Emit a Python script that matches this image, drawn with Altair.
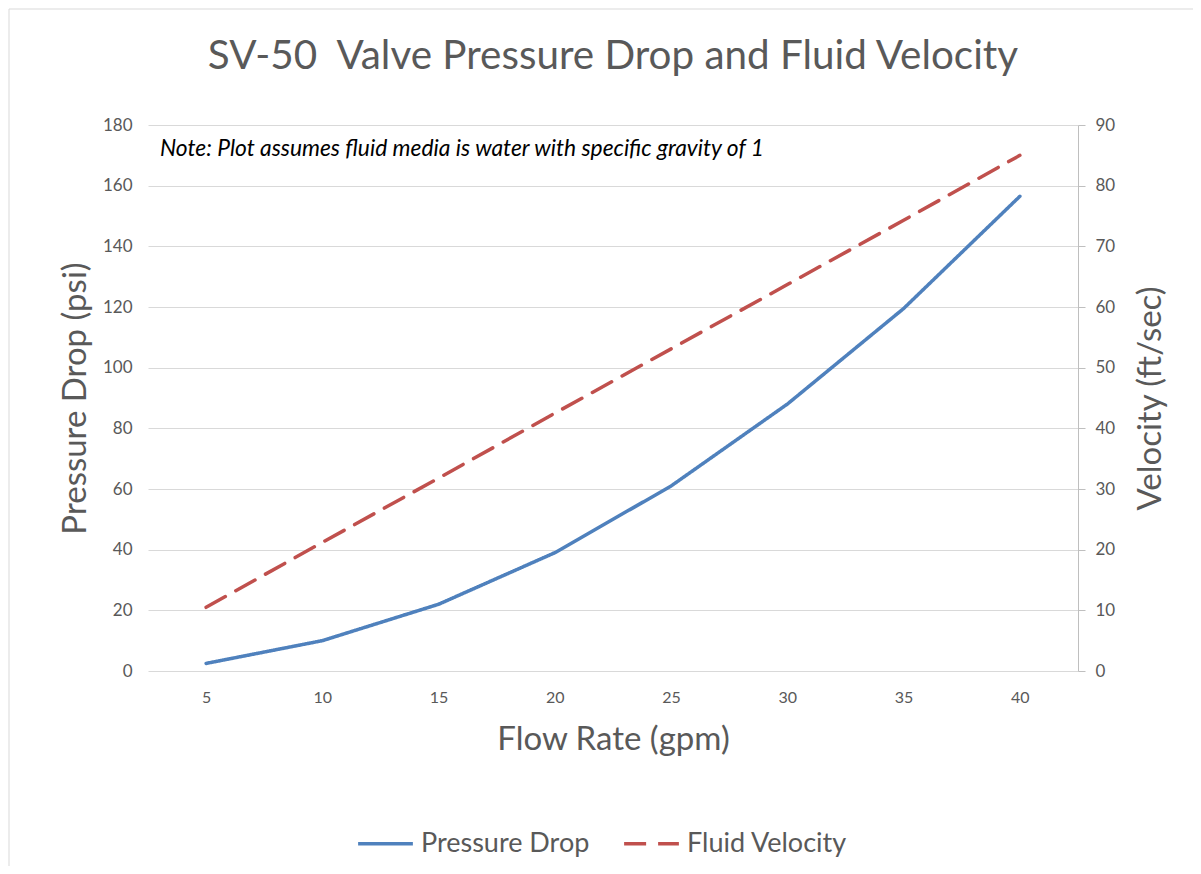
import altair as alt
import pandas as pd

flow = [5, 10, 15, 20, 25, 30, 35, 40]
pressure_drop = [2.5, 10, 22, 39, 61, 88, 119.5, 156.5]
velocity = [10.5, 21.2, 31.8, 42.5, 53.1, 63.7, 74.3, 85.0]
series_names = ["Pressure Drop", "Fluid Velocity"]
series_colors = ["#4F81BD", "#C0504D"]
series_dash = [[1, 0], [22, 12]]
note_text = "Note: Plot assumes fluid media is water with specific gravity of 1"
title_text = "SV-50\u00a0 Valve Pressure Drop and Fluid Velocity"

df_p = pd.DataFrame({"flow": flow, "value": pressure_drop, "series": series_names[0]})
df_v = pd.DataFrame({"flow": flow, "value": velocity, "series": series_names[1]})

FONT = "Lato"
GREY = "#595959"

x_enc = alt.X("flow:O", sort=flow,
              scale=alt.Scale(paddingOuter=0.5, paddingInner=0),
              axis=alt.Axis(title="Flow Rate (gpm)", labelAngle=0, domain=False, ticks=False,
                            labelFontSize=16, labelColor=GREY, labelPadding=18,
                            titleFontSize=33, titleColor=GREY, titleFontWeight="normal",
                            titlePadding=18, labelFont=FONT, titleFont=FONT))

color_enc = alt.Color("series:N", scale=alt.Scale(domain=series_names, range=series_colors),
                      legend=alt.Legend(title=None, orient="none", legendX=208, legendY=689,
                                        direction="horizontal", labelFontSize=27, labelColor=GREY,
                                        labelFont=FONT, symbolType="stroke", symbolSize=3000,
                                        symbolStrokeWidth=3.5, columnPadding=27, labelOffset=6,
                                        labelLimit=0))
dash_enc = alt.StrokeDash("series:N", scale=alt.Scale(domain=series_names, range=series_dash),
                          legend=None)

line_p = alt.Chart(df_p).mark_line(strokeWidth=3.5, strokeCap="round").encode(
    x=x_enc,
    y=alt.Y("value:Q", scale=alt.Scale(domain=[0, 180]),
            axis=alt.Axis(title="Pressure Drop (psi)", values=list(range(0, 181, 20)),
                          domain=False, ticks=False, grid=True, gridColor="#D9D9D9",
                          labelFontSize=17, labelColor=GREY, labelPadding=16,
                          titleFontSize=33, titleColor=GREY, titleFontWeight="normal",
                          titlePadding=10, labelFont=FONT, titleFont=FONT)),
    color=color_enc,
    strokeDash=dash_enc,
)

line_v = alt.Chart(df_v).mark_line(strokeWidth=3.5, strokeCap="round").encode(
    x=x_enc,
    y=alt.Y("value:Q", scale=alt.Scale(domain=[0, 90]),
            axis=alt.Axis(title="Velocity (ft/sec)", orient="right", values=list(range(0, 91, 10)),
                          domain=True, domainColor="#BFBFBF", ticks=True, tickColor="#BFBFBF",
                          tickSize=7, grid=False,
                          labelFontSize=17, labelColor=GREY, labelPadding=10,
                          titleFontSize=33, titleColor=GREY, titleFontWeight="normal",
                          titleAngle=270, titleBaseline="top",
                          titlePadding=20, labelFont=FONT, titleFont=FONT)),
    color=color_enc,
    strokeDash=dash_enc,
)

note = alt.Chart(pd.DataFrame({"t": [note_text]})).mark_text(
    align="left", baseline="middle", fontStyle="italic", fontSize=22.8, font=FONT, color="#000000"
).encode(x=alt.value(12), y=alt.value(24), text="t:N")

title = alt.Chart(pd.DataFrame({"t": [title_text]})).mark_text(
    align="center", baseline="middle", fontSize=40.4, font=FONT, color=GREY
).encode(x=alt.value(465), y=alt.value(-68), text="t:N")

frame = alt.Chart(pd.DataFrame({"a": [0]})).mark_rect(
    fill=None, stroke="#D9D9D9", strokeWidth=1
).encode(x=alt.value(-139), x2=alt.value(1050), y=alt.value(-116), y2=alt.value(745))

chart = alt.layer(frame, line_p, line_v, note, title).resolve_scale(y="independent").properties(
    width=930, height=546,
    autosize=alt.AutoSizeParams(type="none"),
    padding={"left": 140, "top": 117, "right": 115, "bottom": 195},
).configure_view(stroke=None)

chart.save("out.html", embed_options={"renderer": "svg", "actions": False})
